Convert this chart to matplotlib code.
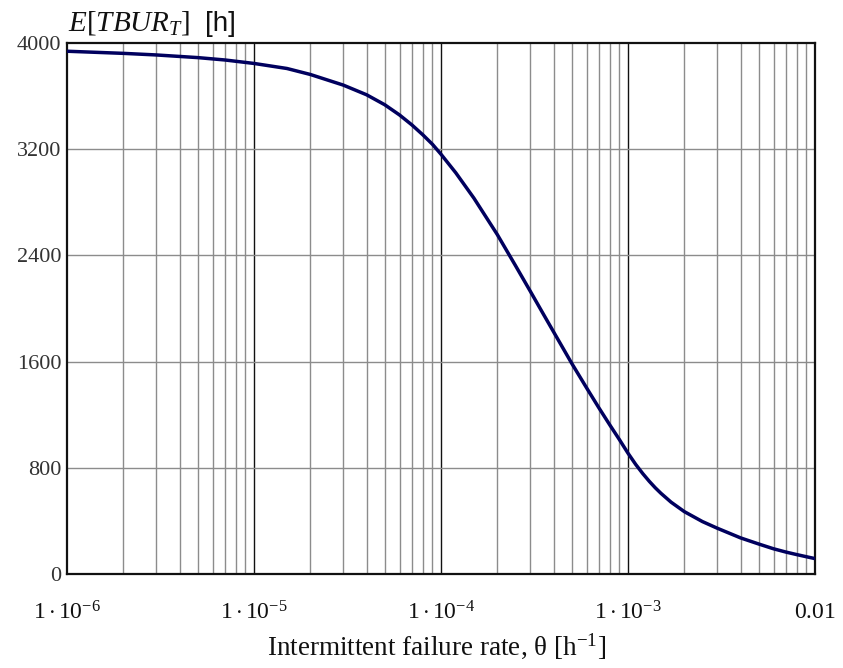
import matplotlib
matplotlib.use("Agg")
import matplotlib.pyplot as plt
from matplotlib.ticker import FixedLocator, NullFormatter

# Expected time between unscheduled removals vs. intermittent failure rate
theta = [1e-6, 2e-6, 3e-6, 5e-6, 7e-6, 1e-5, 1.5e-5, 2e-5, 3e-5, 4e-5, 5e-5,
         6e-5, 7e-5, 8e-5, 9e-5, 1e-4, 1.2e-4, 1.5e-4, 2e-4, 2.5e-4, 3e-4,
         3.5e-4, 4e-4, 4.5e-4, 5e-4, 6e-4, 7e-4, 8e-4, 9e-4, 1e-3, 1.1e-3,
         1.2e-3, 1.3e-3, 1.4e-3, 1.5e-3, 1.7e-3, 2e-3, 2.5e-3, 3e-3, 4e-3,
         5e-3, 6e-3, 7e-3, 8e-3, 9e-3, 1e-2]
e_tbur = [3938, 3922, 3910, 3890, 3872, 3846, 3808, 3763, 3683, 3610, 3535,
          3458, 3382, 3308, 3237, 3162, 3022, 2831, 2557, 2324, 2131,
          1966, 1824, 1699, 1587, 1403, 1250, 1122, 1012, 910, 825,
          756, 698, 649, 608, 541, 470, 395, 345, 272,
          226, 190, 165, 146, 130, 116]

y_ticks = [0, 800, 1600, 2400, 3200, 4000]
x_ticks = [1e-6, 1e-5, 1e-4, 1e-3, 1e-2]
x_tick_labels = [r"$1\cdot10^{-6}$", r"$1\cdot10^{-5}$", r"$1\cdot10^{-4}$",
                 r"$1\cdot10^{-3}$", r"$0.01$"]

plt.rcParams["mathtext.fontset"] = "custom"
plt.rcParams["mathtext.rm"] = "Liberation Serif"
plt.rcParams["mathtext.it"] = "Liberation Serif:italic"
plt.rcParams["font.family"] = ["Liberation Serif", "DejaVu Serif"]

W, H = 843, 668
fig = plt.figure(figsize=(W / 100, H / 100), dpi=100)
left, right, top, bottom = 67, 815, 43, 574
ax = fig.add_axes([left / W, 1 - bottom / H, (right - left) / W, (bottom - top) / H])

ax.set_xscale("log")
ax.set_xlim(1e-6, 1e-2)
ax.set_ylim(0, 4000)

# grid: gray minor decades, black major decades, gray horizontal lines
minor = [m * 10.0 ** e for e in range(-6, -2) for m in range(2, 10)]
for xv in minor:
    ax.axvline(xv, color="#8c8c8c", lw=1.0, zorder=1)
for xv in x_ticks[1:-1]:
    ax.axvline(xv, color="#111111", lw=1.0, zorder=1)
for yv in y_ticks[1:-1]:
    ax.axhline(yv, color="#8c8c8c", lw=1.0, zorder=1)

ax.plot(theta, e_tbur, color="#00005e", lw=2.5, zorder=3,
        solid_joinstyle="round")

ax.xaxis.set_major_locator(FixedLocator(x_ticks))
ax.xaxis.set_minor_formatter(NullFormatter())
ax.set_xticks(x_ticks)
ax.set_xticklabels(x_tick_labels)
ax.set_yticks(y_ticks)
ax.set_yticklabels([str(v) for v in y_ticks])
ax.tick_params(axis="both", which="both", length=0)
ax.tick_params(axis="x", pad=20, labelsize=17, labelcolor="#111111")
ax.tick_params(axis="y", pad=4, labelsize=16, labelcolor="#333333")

for s in ax.spines.values():
    s.set_color("#111111")
    s.set_linewidth(1.6)

fig.text(437 / W, 1 - 655 / H,
         r"Intermittent failure rate, $\mathrm{\theta}$ [h$^{\mathrm{-1}}$]",
         fontsize=19.5, ha="center", va="baseline", color="#111111")

fig.text(68 / W, 1 - 23 / H, r"$E[TBUR_T]$", fontsize=21, va="center", ha="left",
         color="#111111")
fig.text(205 / W, 1 - 24 / H, "[h]", fontsize=20, va="center", ha="left",
         family="Liberation Sans", color="#111111")

fig.savefig("out.png", dpi=100, facecolor="white")
